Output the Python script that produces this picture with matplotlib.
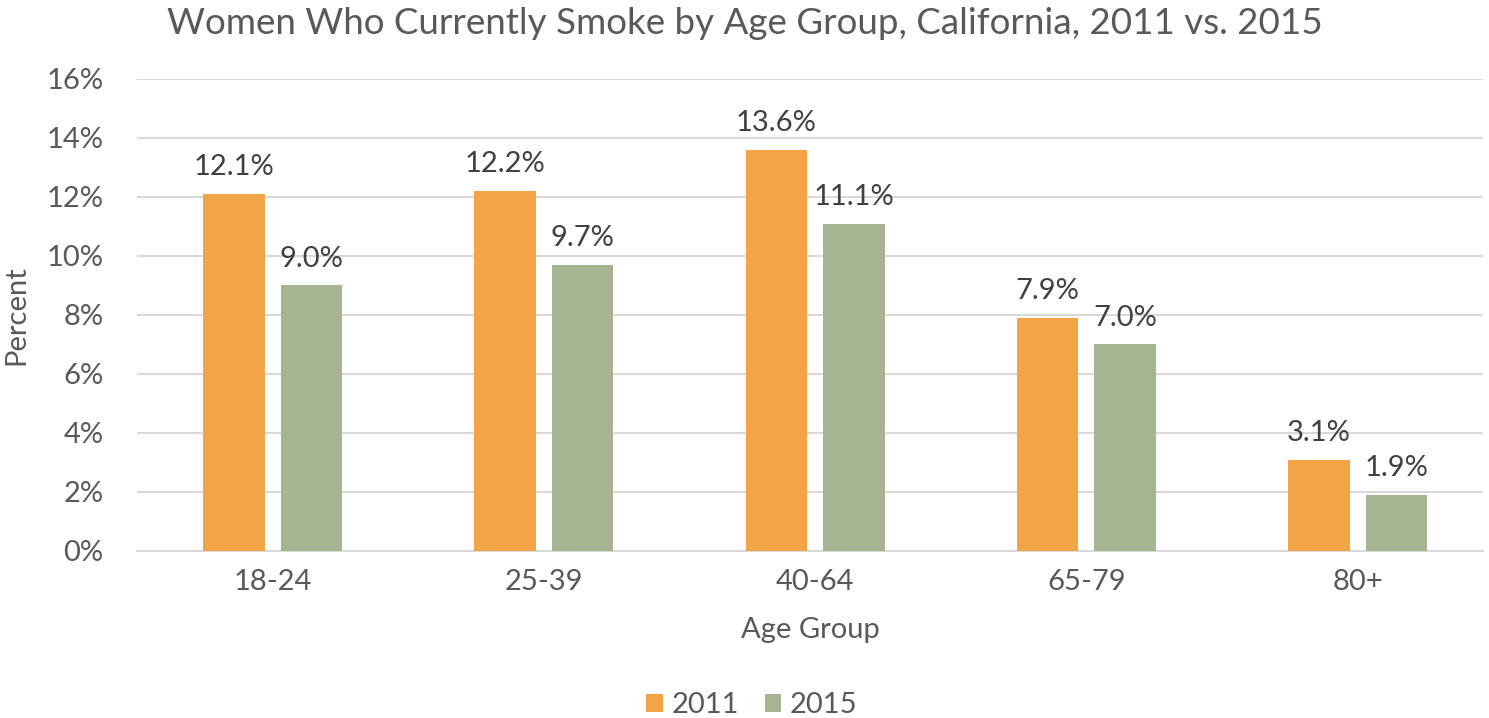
import matplotlib
matplotlib.use("Agg")
import matplotlib.pyplot as plt
import numpy as np

categories = ["18-24", "25-39", "40-64", "65-79", "80+"]
series_names = ["2011", "2015"]
values_2011 = [12.1, 12.2, 13.6, 7.9, 3.1]
values_2015 = [9.0, 9.7, 11.1, 7.0, 1.9]
yticks = [0, 2, 4, 6, 8, 10, 12, 14, 16]

colors = ["#F2A446", "#A6B591"]
tick_color = "#595959"
label_color = "#404040"
font = ["Lato", "DejaVu Sans"]
plt.rcParams["font.family"] = font

fig = plt.figure(figsize=(14.89, 7.18), dpi=100)
ax = fig.add_axes([0.092, 0.2326, 0.904, 0.6574])

x = np.arange(len(categories))
off = 0.143
w = 0.227
for vals, sign, col, name in [(values_2011, -1, colors[0], series_names[0]),
                              (values_2015, 1, colors[1], series_names[1])]:
    bars = ax.bar(x + sign * off, vals, width=w, color=col, label=name, zorder=3)
    for b, v in zip(bars, vals):
        ax.text(b.get_x() + b.get_width() / 2, v + 0.47, f"{v:.1f}%", ha="center",
                va="bottom", fontsize=21, color=label_color)

ax.set_xlim(-0.5, 4.462)
ax.set_ylim(0, 16)
ax.set_yticks(yticks)
ax.set_yticklabels([f"{t}%" for t in yticks], fontsize=21, color=tick_color)
ax.set_xticks(x)
ax.set_xticklabels(categories, fontsize=21, color=tick_color)
ax.grid(axis="y", color="#D9D9D9", linewidth=1.5, zorder=0)
for s in ["top", "right", "left"]:
    ax.spines[s].set_visible(False)
ax.spines["bottom"].set_color("#D9D9D9")
ax.spines["bottom"].set_linewidth(1.5)
ax.tick_params(axis="both", length=0)
ax.tick_params(axis="y", pad=24)
ax.tick_params(axis="x", pad=13)

ax.set_ylabel("Percent", fontsize=21, color=tick_color, labelpad=12)
ax.set_xlabel("Age Group", fontsize=21, color=tick_color, labelpad=16)

fig.suptitle("Women Who Currently Smoke by Age Group, California, 2011 vs. 2015",
             fontsize=26.5, color=tick_color, x=0.50, y=0.99, va="top")

leg = fig.legend(loc="center", bbox_to_anchor=(0.505, 0.018), ncol=2, frameon=False,
                 fontsize=21, handlelength=0.55, handleheight=0.55, handletextpad=0.3,
                 columnspacing=0.9)
for t in leg.get_texts():
    t.set_color(tick_color)

fig.savefig("out.png", dpi=100)
